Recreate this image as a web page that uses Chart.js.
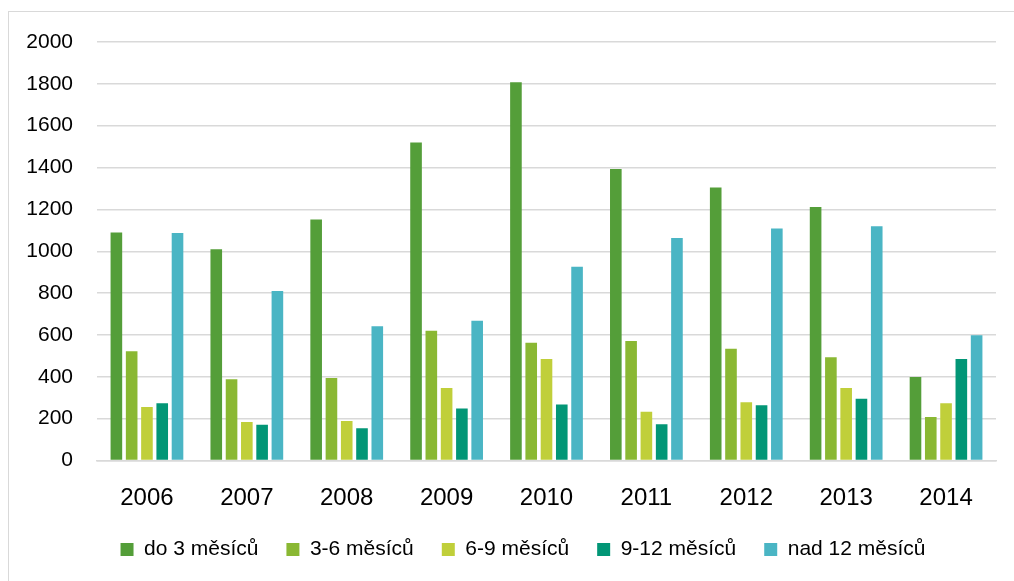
<!DOCTYPE html>
<html>
<head>
<meta charset="utf-8">
<script src="https://cdn.jsdelivr.net/npm/chart.js@4.4.1/dist/chart.umd.min.js"></script>
<style>
  html, body { margin: 0; padding: 0; background: #fff; overflow: hidden; width: 1014px; height: 581px; }
  #frame { position: absolute; left: 8px; top: 11px; width: 1100px; height: 700px; border: 1.5px solid #d9d9d9; }
  #wrap { position: absolute; left: 0; top: 0; width: 1014px; height: 581px; }
</style>
</head>
<body>
<div id="frame"></div>
<div id="wrap"><canvas id="c" width="1014" height="581"></canvas></div>
<script>
const years = ['2006', '2007', '2008', '2009', '2010', '2011', '2012', '2013', '2014'];
const seriesNames = ['do 3 měsíců', '3-6 měsíců', '6-9 měsíců', '9-12 měsíců', 'nad 12 měsíců'];
const do3 = [1090, 1009, 1152, 1520, 1808, 1393, 1305, 1211, 399];
const m3to6 = [522, 388, 394, 620, 563, 571, 534, 494, 208];
const m6to9 = [256, 184, 189, 346, 485, 233, 278, 346, 273];
const m9to12 = [273, 171, 154, 248, 268, 173, 264, 295, 485];
const nad12 = [1087, 810, 641, 668, 926, 1063, 1109, 1120, 598];
const yTicks = [0, 200, 400, 600, 800, 1000, 1200, 1400, 1600, 1800, 2000];

const colors = ['#549E39', '#8AB833', '#C0CF3A', '#029676', '#4AB5C4'];
const values = [do3, m3to6, m6to9, m9to12, nad12];
const FONT = "'Liberation Sans', Arial, sans-serif";

// fixes the legend's height and nudges it so it sits where the reference has it
const legendFitPlugin = {
  id: 'legendFit',
  beforeLayout(chart) {
    const lg = chart.legend;
    if (lg && !lg._patched) {
      const origFit = lg.fit.bind(lg);
      lg.fit = function () { origFit(); this.height = 74; };
      const origDraw = lg.draw.bind(lg);
      lg.draw = function () {
        const ctx = this.ctx;
        ctx.save();
        ctx.translate(25, 4);
        origDraw();
        ctx.restore();
      };
      lg._patched = true;
    }
  }
};

new Chart(document.getElementById('c'), {
  type: 'bar',
  data: {
    labels: years,
    datasets: seriesNames.map((n, i) => ({
      label: n,
      data: values[i],
      backgroundColor: colors[i],
      borderWidth: 0,
      categoryPercentage: 0.765,
      barPercentage: 0.76
    }))
  },
  plugins: [legendFitPlugin],
  options: {
    responsive: false,
    animation: false,
    layout: { padding: { left: 0, right: 18, top: 42, bottom: 0 } },
    plugins: {
      tooltip: { enabled: false },
      legend: {
        position: 'bottom',
        labels: {
          color: '#000',
          font: { family: FONT, size: 21 },
          boxWidth: 13,
          boxHeight: 13,
          padding: 28
        }
      }
    },
    scales: {
      x: {
        grid: { display: false, drawTicks: false },
        border: { display: true, color: '#d9d9d9', width: 1.5 },
        ticks: { color: '#000', font: { family: FONT, size: 24 }, padding: 23 },
        afterFit: (s) => { s.height = 46.5; }
      },
      y: {
        min: 0, max: 2000,
        afterBuildTicks: (s) => { s.ticks = yTicks.map(v => ({ value: v })); },
        grid: { color: '#d9d9d9', lineWidth: 1.5, drawTicks: false },
        border: { display: false },
        ticks: { color: '#000', font: { family: FONT, size: 21 }, padding: 24, callback: (v) => String(v) },
        afterFit: (s) => { s.width = 97; }
      }
    }
  }
});
</script>
</body>
</html>
